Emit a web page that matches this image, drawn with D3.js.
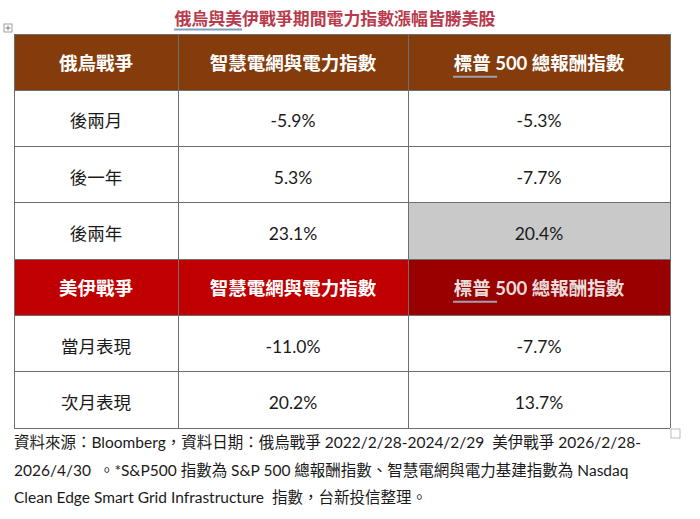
<!DOCTYPE html>
<html>
<head>
<meta charset="utf-8">
<script src="https://cdn.jsdelivr.net/npm/d3@7"></script>
<style>
  html, body { margin: 0; padding: 0; background: #fff; }
  svg { display: block; }
</style>
</head>
<body>
<script>
const title = '俄烏與美伊戰爭期間電力指數漲幅皆勝美股'
const columns = ['label', 'grid', 'sp']
const headersA = ['俄烏戰爭', '智慧電網與電力指數', '標普 500 總報酬指數']
const headersB = ['美伊戰爭', '智慧電網與電力指數', '標普 500 總報酬指數']
const labelsA = ['後兩月', '後一年', '後兩年']
const gridA = [-5.9, 5.3, 23.1]
const spA = [-5.3, -7.7, 20.4]
const labelsB = ['當月表現', '次月表現']
const gridB = [-11.0, 20.2]
const spB = [-7.7, 13.7]
const notes = [
  '資料來源：Bloomberg，資料日期：俄烏戰爭 2022/2/28-2024/2/29  美伊戰爭 2026/2/28-',
  '2026/4/30  。*S&P500 指數為 S&P 500 總報酬指數、智慧電網與電力基建指數為 Nasdaq',
  'Clean Edge Smart Grid Infrastructure  指數，台新投信整理。',
]

const width = 700
const height = 519
const font = 'Lato, "Noto Sans CJK TC", sans-serif'
const fmt = d3.formatLocale({ decimal: '.', thousands: ',', grouping: [3], currency: ['', ''], minus: '-' }).format('.1f')

// rows: header, data, header, data
const rows = [
  { type: 'head', cells: headersA, fill: ['#843c0c', '#843c0c', '#843c0c'] },
  ...labelsA.map((l, i) => ({ type: 'body', cells: [l, fmt(gridA[i]) + '%', fmt(spA[i]) + '%'], fill: ['#fff', '#fff', i === 2 ? '#c9c9c9' : '#fff'] })),
  { type: 'head', cells: headersB, fill: ['#c00000', '#c00000', '#990000'] },
  ...labelsB.map((l, i) => ({ type: 'body', cells: [l, fmt(gridB[i]) + '%', fmt(spB[i]) + '%'], fill: ['#fff', '#fff', '#fff'] })),
]

const colX = d3.scaleOrdinal().domain(columns).range([14, 178, 408])
const colW = d3.scaleOrdinal().domain(columns).range([164, 230, 262])
const y = d3.scaleBand().domain(d3.range(rows.length)).range([34, 428])

const svg = d3.select('body').append('svg')
  .attr('width', width)
  .attr('height', height)
  .attr('viewBox', [0, 0, width, height])

// title
svg.append('text')
  .attr('x', 335)
  .attr('y', 25)
  .attr('text-anchor', 'middle')
  .attr('font-family', '"Noto Sans CJK TC", sans-serif')
  .attr('font-size', 16.9)
  .attr('font-weight', 'bold')
  .attr('fill', '#b83a4b')
  .text(title)

svg.append('line')
  .attr('x1', 174).attr('x2', 242)
  .attr('y1', 29.5).attr('y2', 29.5)
  .attr('stroke', '#7f9fc0')
  .attr('stroke-width', 2)

// little table handle
const handle = svg.append('g').attr('transform', 'translate(4,24)')
handle.append('rect').attr('width', 8).attr('height', 8).attr('fill', '#fff').attr('stroke', '#888').attr('stroke-width', 0.8)
handle.append('path').attr('d', 'M4,1.5V6.5M1.5,4H6.5').attr('stroke', '#666').attr('stroke-width', 0.8)

const rowG = svg.append('g')
  .selectAll('g')
  .data(rows)
  .join('g')
  .attr('transform', (d, i) => `translate(0,${y(i)})`)

rowG.each(function(row) {
  const g = d3.select(this)
  const cells = g.selectAll('g')
    .data(columns.map((c, j) => ({ col: c, text: row.cells[j], fill: row.fill[j], type: row.type })))
    .join('g')

  cells.append('rect')
    .attr('x', d => colX(d.col))
    .attr('y', 0)
    .attr('width', d => colW(d.col))
    .attr('height', y.bandwidth())
    .attr('fill', d => d.fill)

  cells.append('text')
    .attr('x', d => colX(d.col) + colW(d.col) / 2)
    .attr('y', d => y.bandwidth() / 2 + (d.type === 'head' ? 7.5 : 9))
    .attr('text-anchor', 'middle')
    .attr('font-family', font)
    .attr('font-size', d => d.type === 'head' ? 18.5 : 17.5)
    .attr('font-weight', d => d.type === 'head' ? 'bold' : 'normal')
    .attr('fill', d => d.type === 'head' ? (d.col === 'sp' && d.fill === '#990000' ? '#e8dede' : '#fff') : '#1a1a1a')
    .text(d => d.text)
})

// underline under 標普 in headers
rows.forEach((row, i) => {
  if (row.type !== 'head') return
  svg.append('line')
    .attr('x1', 453).attr('x2', 497)
    .attr('y1', y(i) + y.bandwidth() / 2 + 14.5).attr('y2', y(i) + y.bandwidth() / 2 + 14.5)
    .attr('stroke', '#a0a0b0')
    .attr('stroke-width', 2)
})

// grid lines
const lines = svg.append('g').attr('stroke', '#6f6f6f').attr('stroke-width', 1).attr('shape-rendering', 'crispEdges')
rows.forEach((row, i) => {
  lines.append('line').attr('x1', 14).attr('x2', 670).attr('y1', y(i)).attr('y2', y(i))
})
lines.append('line').attr('x1', 14).attr('x2', 670).attr('y1', 428).attr('y2', 428)
;[14, 178, 408, 670].forEach(x => {
  lines.append('line').attr('x1', x).attr('x2', x).attr('y1', 34).attr('y2', 428)
})

// end-of-table marker
svg.append('rect')
  .attr('x', 671).attr('y', 429).attr('width', 9).attr('height', 9)
  .attr('fill', '#fff').attr('stroke', '#aaa').attr('stroke-width', 0.8)

// footnote
svg.append('g')
  .selectAll('text')
  .data(notes)
  .join('text')
  .attr('x', 14)
  .attr('y', (d, i) => 448 + i * 27.5)
  .attr('font-family', font)
  .attr('font-size', 15.5)
  .attr('fill', '#1a1a1a')
  .attr('xml:space', 'preserve')
  .text(d => d)
</script>
</body>
</html>
